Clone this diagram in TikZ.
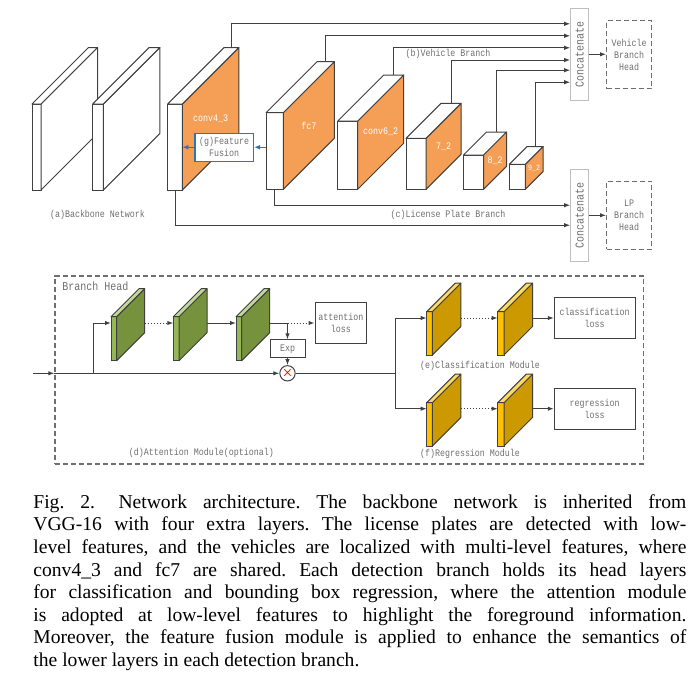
\documentclass[tikz,border=0pt]{standalone}
\usepackage{fontspec}
\usetikzlibrary{arrows.meta, positioning, calc}
\newfontfamily\lblfont[FakeStretch=0.833]{Liberation Mono}
\newfontfamily\capfont{Liberation Serif}
\definecolor{linegray}{RGB}{64,64,64}
\definecolor{txtgray}{RGB}{110,110,110}
\definecolor{boxgray}{RGB}{190,190,190}
\definecolor{dashgray}{RGB}{110,110,110}
\definecolor{fuseblue}{RGB}{46,117,182}
% face colours of the layers: F front, S side, T top
\definecolor{bbwF}{RGB}{255,255,255}
\definecolor{bbwS}{RGB}{255,255,255}
\definecolor{bbwT}{RGB}{255,255,255}
\definecolor{orgF}{RGB}{255,255,255}
\definecolor{orgS}{RGB}{244,158,86}
\definecolor{orgT}{RGB}{255,255,255}
\definecolor{grnF}{RGB}{150,184,84}
\definecolor{grnS}{RGB}{118,146,60}
\definecolor{grnT}{RGB}{196,215,155}
\definecolor{gldF}{RGB}{255,192,0}
\definecolor{gldS}{RGB}{204,153,0}
\definecolor{gldT}{RGB}{255,217,102}
% name, x, y, width, height, depth, colour set, label, label style
\newcommand{\cuboidlayer}[9]{%
  \node[layerface, fill=#7F, minimum width=#4*0.5pt, minimum height=#5*0.5pt, anchor=north west] (#1) at (#2,#3) {};
  \filldraw[layerline, fill=#7S] (#1.north east) -- ++(#6,-#6) coordinate (#1-r) -- ++(0,#5) -- (#1.south east) -- cycle;
  \filldraw[layerline, fill=#7T] (#1.north west) -- ++(#6,-#6) -- (#1-r) -- (#1.north east) -- cycle;
  \coordinate (#1-up) at ([shift={(#6,-#6)}]#1.north);
  \node[#9] at ([shift={(#6/2,#5/2-#6/2)}]#1.north east) {#8};
}

\begin{document}
\begin{tikzpicture}[x=0.5pt, y=-0.5pt,
    line/.style={draw=linegray, line width=0.5pt},
    conn/.style={line, -{Latex[length=3pt,width=2.2pt]}},
    fuse/.style={draw=fuseblue, line width=0.6pt, -{Latex[length=3pt,width=2.4pt]}},
    layerface/.style={draw=linegray, line width=0.5pt, inner sep=0pt, outer sep=0pt},
    layerline/.style={draw=linegray, line width=0.5pt, line join=round},
    lbl/.style={font=\lblfont\fontsize{5}{5.9}\selectfont, text=txtgray, align=center, inner sep=0pt},
    inlbl/.style={font=\lblfont\fontsize{5}{6}\selectfont, text=white, inner sep=0pt},
    smlbl/.style={inlbl, font=\lblfont\fontsize{4}{5}\selectfont},
    catbox/.style={draw=boxgray, line width=0.5pt, fill=white, minimum width=9pt, minimum height=46pt, inner sep=0pt, font=\lblfont\fontsize{6}{7}\selectfont, text=txtgray},
    headbox/.style={lbl, draw=dashgray, line width=0.6pt, dash pattern=on 2.5pt off 1.5pt, minimum width=22.5pt, minimum height=34pt},
    lossbox/.style={lbl, draw=linegray, line width=0.5pt, fill=white, minimum height=20.3pt},
    fusebox/.style={lbl, draw=fuseblue, line width=0.6pt, fill=white, minimum width=29.2pt, minimum height=13.9pt}]
    \useasboundingbox (0,0) rectangle (700,685);

    % backbone and extra layers
    \cuboidlayer{bb1}{32}{104}{9}{86}{56.5}{bbw}{}{inlbl}
    \cuboidlayer{bb2}{92.7}{104}{10.6}{86}{56.5}{bbw}{}{inlbl}
    \cuboidlayer{conv43}{167.7}{104}{14.6}{86}{56.5}{org}{conv4\_3}{inlbl}
    \cuboidlayer{fc7}{266}{112.7}{17.3}{76.6}{51}{org}{fc7}{inlbl}
    \cuboidlayer{conv62}{337.7}{121}{20}{68.3}{46}{org}{conv6\_2}{inlbl}
    \cuboidlayer{l72}{406}{138.3}{20}{51}{35}{org}{7\_2}{inlbl}
    \cuboidlayer{l82}{463.5}{155}{20}{34.3}{23}{org}{8\_2}{inlbl}
    \cuboidlayer{l92}{509.3}{164.3}{16}{25}{17.8}{org}{9\_2}{smlbl}

    \node[fusebox] (ff) at (224.2,147.2) {(g)Feature\\Fusion};
    \draw[fuse] (fc7.west |- ff.east) -- (ff.east);
    \draw[fuse] (ff.west) -- (conv43.east |- ff.west);

    \node[catbox] (cat1) at (579.7,54.3) {\rotatebox{90}{Concatenate}};
    \node[catbox] (cat2) at (579.7,215.3) {\rotatebox{90}{Concatenate}};
    \node[headbox] (vh) at (629.2,54.7) {Vehicle\\Branch\\Head};
    \node[headbox] (lph) at (629.2,215.3) {LP\\Branch\\Head};

    \draw[conn] (conv43-up) |- ($(cat1.north west)+(0,16)$);
    \draw[conn] (fc7-up) |- ($(cat1.north west)+(0,28)$);
    \draw[conn] (conv62-up) |- ($(cat1.north west)+(0,40)$);
    \draw[conn] (l72-up) |- ($(cat1.north west)+(0,52.2)$);
    \draw[conn] (l82-up) |- ($(cat1.north west)+(0,62.4)$);
    \draw[conn] (l92-up) |- ($(cat1.north west)+(0,74.4)$);
    \draw[conn] (fc7.south) |- ($(cat2.north west)+(0,36.4)$);
    \draw[conn] (conv43.south) |- ($(cat2.north west)+(0,56.4)$);
    \draw[conn] (cat1.east) -- (vh.west |- cat1.east);
    \draw[conn] (cat2.east) -- (lph.west |- cat2.east);

    \node[lbl] (bblbl) at (97.5,215) {(a)Backbone Network};
    \node[lbl] (vblbl) at (448,54) {(b)Vehicle Branch};
    \node[lbl] (lplbl) at (448,215) {(c)License Plate Branch};

    % branch head
    \node[draw=dashgray, line width=0.6pt, dash pattern=on 2.5pt off 1.5pt, minimum width=294.2pt, minimum height=94pt] (head) at (349.15,370) {};
    \node[lbl, font=\lblfont\fontsize{6}{7}\selectfont, anchor=west] (headlbl) at (62,286) {Branch Head};

    \cuboidlayer{grn1}{111}{316.7}{5.7}{44}{28}{grn}{}{inlbl}
    \cuboidlayer{grn2}{173.3}{316.7}{5.7}{44}{28}{grn}{}{inlbl}
    \cuboidlayer{grn3}{236}{316.7}{5.7}{44}{28}{grn}{}{inlbl}
    \cuboidlayer{gld1}{426.7}{311.7}{5.6}{43.3}{28.5}{gld}{}{inlbl}
    \cuboidlayer{gld2}{497.7}{311.7}{6.3}{43.3}{28.5}{gld}{}{inlbl}
    \cuboidlayer{gld3}{426.7}{402.7}{5.6}{43.3}{28.5}{gld}{}{inlbl}
    \cuboidlayer{gld4}{497.7}{402.7}{6.3}{43.3}{28.5}{gld}{}{inlbl}

    \node[lossbox, minimum width=25.9pt] (att) at (340.9,323) {attention\\loss};
    \node[lossbox, minimum width=40.4pt] (cls) at (594.7,318) {classification\\loss};
    \node[lossbox, minimum width=40.4pt] (reg) at (594.7,408.7) {regression\\loss};
    \node[lbl, draw=linegray, line width=0.5pt, minimum width=17.5pt, minimum height=8.9pt] (exp) at (287.5,348.8) {Exp};
    \node[circle, draw=linegray, line width=0.5pt, fill=white, minimum size=5.6pt, inner sep=0pt, font=\fontsize{5}{5}\selectfont] (mul) at (287.5,373.3) {\textcolor{red}{\boldmath$\times$}};

    \coordinate (in) at (33,373.3);
    \coordinate (split1) at (93.3,373.3);
    \coordinate (split2) at (395.7,373.3);
    \draw[conn] (in) -- (in -| head.west);
    \draw[conn] (in -| head.west) -- (mul.west);
    \draw[line] (mul.east) -- (split2);
    \draw[conn] (split1) |- (grn1.west |- att.west);
    \draw[conn, densely dotted] (grn1-r |- att.west) -- (grn2.west |- att.west);
    \draw[conn] (grn2-r |- att.west) -- (grn3.west |- att.west);
    \draw[line] (grn3-r |- att.west) -- (exp.north |- att.west) coordinate (attsplit);
    \draw[conn, densely dotted] (attsplit) -- (att.west);
    \draw[conn] (attsplit) -- (exp.north);
    \draw[conn] (exp.south) -- (mul.north);
    \draw[conn] (split2) |- (gld1.west |- cls.west);
    \draw[conn] (split2) |- (gld3.west |- reg.west);
    \draw[conn, densely dotted] (gld1-r |- cls.west) -- (gld2.west |- cls.west);
    \draw[conn] (gld2-r |- cls.west) -- (cls.west);
    \draw[conn, densely dotted] (gld3-r |- reg.west) -- (gld4.west |- reg.west);
    \draw[conn] (gld4-r |- reg.west) -- (reg.west);

    \node[lbl] (attlbl) at (201.3,453.3) {(d)Attention Module(optional)};
    \node[lbl] (clslbl) at (480,366) {(e)Classification Module};
    \node[lbl] (reglbl) at (470,453.7) {(f)Regression Module};

    % caption
    \node[anchor=north west, text width=326.5pt, align=justify, inner sep=0pt, font=\capfont\fontsize{9.8}{11.3}\selectfont\frenchspacing] (cap) at (33,494) {Fig.~2.\hspace{1.2em}Network architecture. The backbone network is inherited from\linebreak VGG-16 with four extra layers. The license plates are detected with low-\linebreak level features, and the vehicles are localized with multi-level features, where\linebreak conv4\_3 and fc7 are shared. Each detection branch holds its head layers\linebreak for classification and bounding box regression, where the attention module\linebreak is adopted at low-level features to highlight the foreground information.\linebreak Moreover, the feature fusion module is applied to enhance the semantics of\linebreak the lower layers in each detection branch.};
\end{tikzpicture}
\end{document}
